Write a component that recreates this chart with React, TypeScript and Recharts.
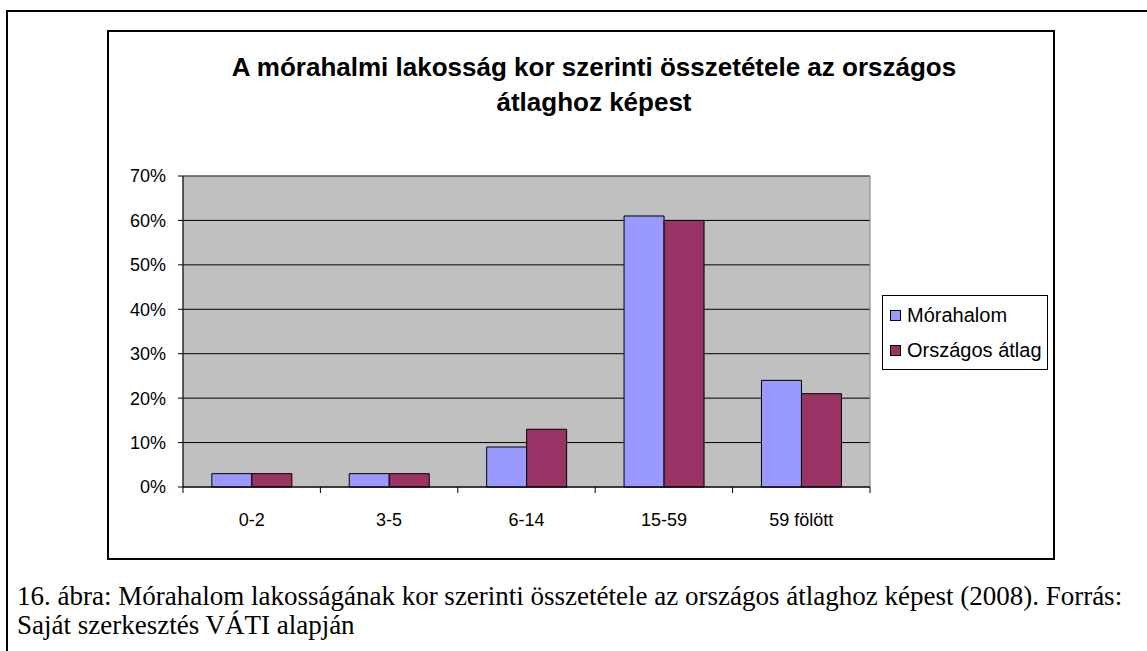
import React from 'react';
import {
  BarChart, Bar, XAxis, YAxis, CartesianGrid, Legend, ReferenceArea,
} from 'recharts';

const categories = ['0-2', '3-5', '6-14', '15-59', '59 fölött'];
const morahalom = [3, 3, 9, 61, 24];
const orszagos = [3, 3, 13, 60, 21];
const yTicks = [0, 10, 20, 30, 40, 50, 60, 70];

const seriesNames = ['Mórahalom', 'Országos átlag'];
const colors = ['#9999FF', '#993366'];

const data = categories.map((c, i) => ({
  cat: c,
  morahalom: morahalom[i],
  orszagos: orszagos[i],
}));

// chart box placement (page coords)
const CHART_LEFT = 109;
const CHART_TOP = 32;
const CHART_W = 944;
const CHART_H = 526;
const PLOT_LEFT = 183;
const PLOT_RIGHT = 870;
const STEP = (PLOT_RIGHT - PLOT_LEFT) / categories.length;

const arial = '"Liberation Sans", Arial, sans-serif';

const XTick = (props: any) => {
  const { x, y, payload, index } = props;
  const last = index === categories.length - 1;
  return (
    <g>
      <line x1={x - STEP / 2} x2={x - STEP / 2} y1={y} y2={y + 6} stroke="#000" />
      {last && <line x1={x + STEP / 2} x2={x + STEP / 2} y1={y} y2={y + 6} stroke="#000" />}
      <text x={x} y={y + 39} textAnchor="middle" fontSize={18} fontFamily={arial} fill="#000">
        {payload.value}
      </text>
    </g>
  );
};

const LegendBox = () => (
  <div style={{
    border: '1px solid #000',
    background: '#fff',
    width: 164,
    height: 71,
    boxSizing: 'content-box',
    fontFamily: arial,
    fontSize: 20,
    color: '#000',
    paddingTop: 2,
  }}>
    {seriesNames.map((n, i) => (
      <div key={n} style={{ display: 'flex', alignItems: 'center', height: 35, paddingLeft: 7, whiteSpace: 'nowrap' }}>
        <span style={{
          display: 'inline-block', width: 9, height: 9, background: colors[i],
          border: '1px solid #000', marginRight: 6, flexShrink: 0,
        }} />
        <span>{n}</span>
      </div>
    ))}
  </div>
);

export default function App() {
  return (
    <div style={{ position: 'absolute', left: 0, top: 0, width: 1147, height: 651, overflow: 'hidden', background: '#fff' }}>
      {/* outer page frame */}
      <div style={{ position: 'absolute', left: 6, top: 10, width: 1200, height: 700, border: '2px solid #000' }} />
      {/* chart area frame */}
      <div style={{ position: 'absolute', left: 107, top: 30, width: 944, height: 526, border: '2px solid #000' }} />

      <div style={{
        position: 'absolute', left: 108, top: 50, width: 972, textAlign: 'center',
        fontFamily: arial, fontWeight: 'bold', fontSize: 26, lineHeight: '35px', color: '#000',
      }}>
        A mórahalmi lakosság kor szerinti összetétele az országos<br />átlaghoz képest
      </div>

      <div style={{ position: 'absolute', left: CHART_LEFT, top: CHART_TOP }}>
        <BarChart
          width={CHART_W}
          height={CHART_H}
          data={data}
          margin={{ top: 144, right: CHART_LEFT + CHART_W - PLOT_RIGHT, left: PLOT_LEFT - CHART_LEFT - 60, bottom: 41 }}
          barGap={0}
          barCategoryGap="21%"
        >
          <CartesianGrid vertical={false} stroke="#000" fill="#C0C0C0" fillOpacity={1} />
          <ReferenceArea y1={0} y2={70} fill="none" stroke="#808080" strokeWidth={1} ifOverflow="visible" />
          <XAxis
            dataKey="cat"
            axisLine={{ stroke: '#000' }}
            tickLine={false}
            tickSize={0}
            tickMargin={0}
            height={30}
            interval={0}
            tick={<XTick />}
          />
          <YAxis
            width={60}
            domain={[0, 70]}
            ticks={yTicks}
            interval={0}
            axisLine={{ stroke: '#000' }}
            tickLine={{ stroke: '#000' }}
            tickSize={5}
            tickMargin={12}
            tickFormatter={(v) => `${v}%`}
            tick={{ fontSize: 18, fill: '#000', fontFamily: arial }}
          />
          <Legend
            layout="horizontal"
            verticalAlign="middle"
            align="center"
            content={<LegendBox />}
            wrapperStyle={{ left: 882 - CHART_LEFT, top: 295 - CHART_TOP, width: 166, height: 75 }}
          />
          <Bar dataKey="morahalom" name={seriesNames[0]} fill={colors[0]} stroke="#000" strokeWidth={1} isAnimationActive={false} />
          <Bar dataKey="orszagos" name={seriesNames[1]} fill={colors[1]} stroke="#000" strokeWidth={1} isAnimationActive={false} />
        </BarChart>
      </div>

      <div style={{
        position: 'absolute', left: 17, top: 582, width: 1125, whiteSpace: 'nowrap',
        fontFamily: '"Liberation Serif", "Times New Roman", serif', fontSize: 27, lineHeight: '29px', color: '#000',
      }}>
        16. ábra: Mórahalom lakosságának kor szerinti összetétele az országos átlaghoz képest (2008). Forrás:<br />
        Saját szerkesztés VÁTI alapján
      </div>
    </div>
  );
}
